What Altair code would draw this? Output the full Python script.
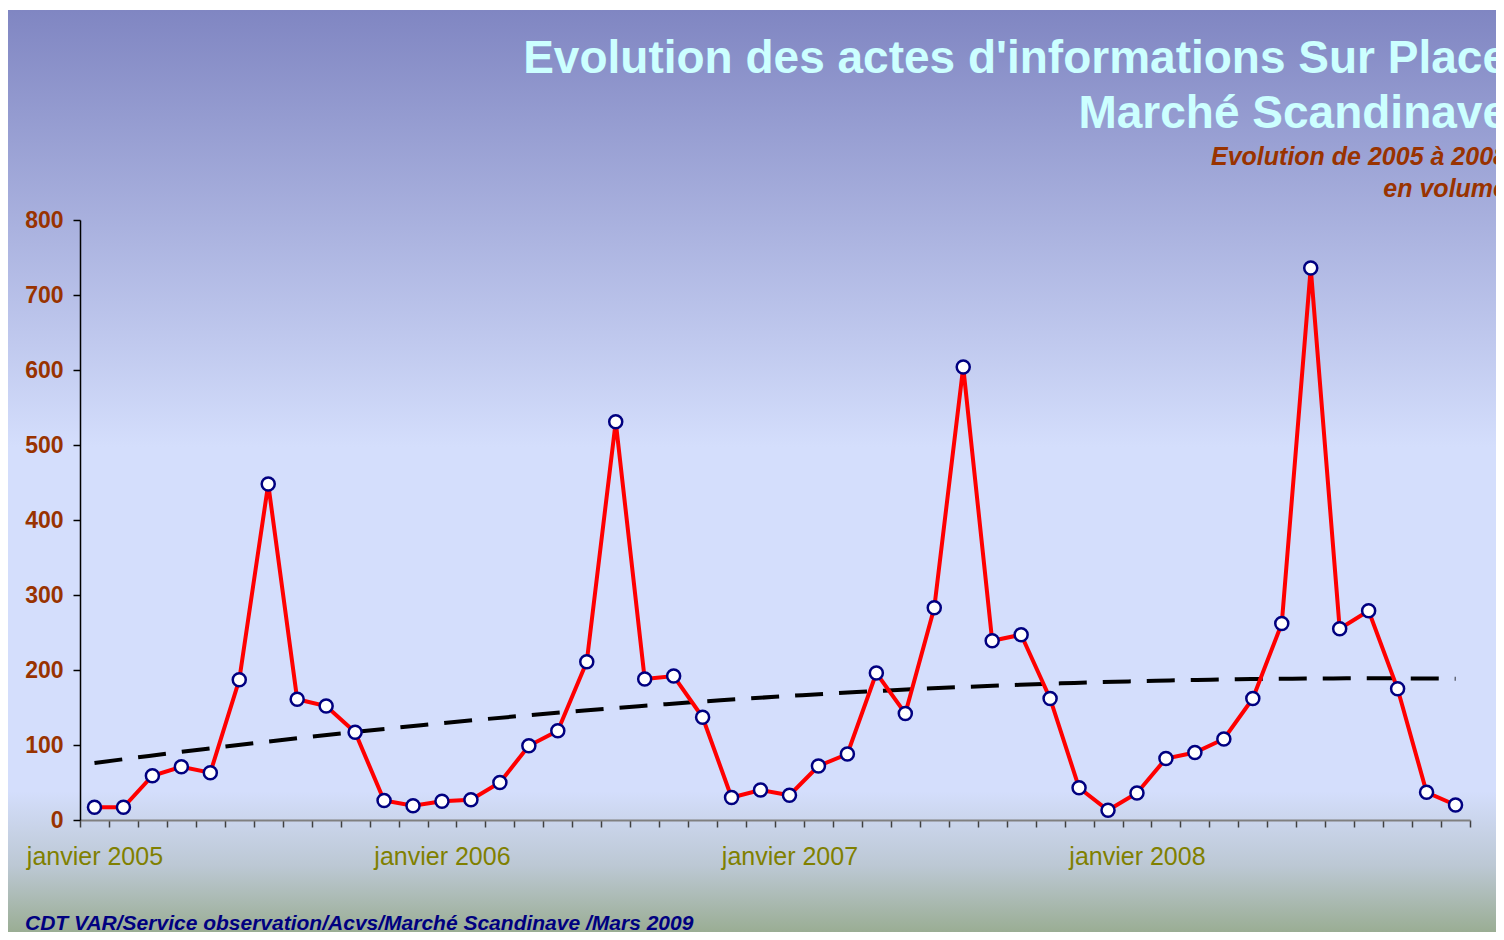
import altair as alt
import pandas as pd

# ---- data ----
years = ["2005", "2006", "2007", "2008"]
months = ["janvier", "février", "mars", "avril", "mai", "juin", "juillet",
          "août", "septembre", "octobre", "novembre", "décembre"]
values_2005 = [17, 17, 59, 71, 63, 187, 448, 161, 152, 117, 26, 19]
values_2006 = [25, 27, 50, 99, 119, 211, 531, 188, 192, 137, 30, 40]
values_2007 = [33, 72, 88, 196, 142, 283, 604, 239, 247, 162, 43, 13]
values_2008 = [36, 82, 90, 108, 162, 262, 736, 255, 279, 175, 37, 20]
y_ticks = [0, 100, 200, 300, 400, 500, 600, 700, 800]
year_labels = ["janvier 2005", "janvier 2006", "janvier 2007", "janvier 2008"]
title_lines = ["Evolution des actes d'informations Sur Place", "Marché Scandinave"]
subtitle_lines = ["Evolution de 2005 à 2008", "en volume"]
footer_text = "CDT VAR/Service observation/Acvs/Marché Scandinave /Mars 2009"

rows = []
for yi, (yr, vals) in enumerate(zip(years, [values_2005, values_2006, values_2007, values_2008])):
    for mi, (m, v) in enumerate(zip(months, vals)):
        rows.append({"idx": yi * 12 + mi + 1, "mois": f"{m} {yr}", "value": v})
df = pd.DataFrame(rows)
n = len(df)

FONT = "Liberation Sans"
W, H = 1390, 600
band = W / n

label_expr = " : ".join(
    f"datum.value == {yi * 12 + 0.5} ? '{lab}'" for yi, lab in enumerate(year_labels)
) + " : ''"

x_enc = alt.X(
    "idx:Q",
    scale=alt.Scale(domain=[0.5, n + 0.5], nice=False, zero=False),
    axis=alt.Axis(
        values=[i + 0.5 for i in range(n + 1)],
        labelExpr=label_expr,
        labelOffset=band / 2,
        labelFlush=False,
        labelOverlap=False,
        labelAlign="center",
        grid=False,
        title=None,
        tickSize=7,
        tickWidth=1.5,
        tickColor="#404040",
        domainColor="#808080",
        domainWidth=2,
        labelFont=FONT,
        labelFontSize=25,
        labelColor="#808000",
        labelPadding=17,
        zindex=1,
    ),
)
y_enc = alt.Y(
    "value:Q",
    scale=alt.Scale(domain=[0, 800], nice=False),
    axis=alt.Axis(
        values=y_ticks,
        grid=False,
        title=None,
        tickSize=7,
        tickWidth=1.5,
        tickColor="black",
        domainColor="black",
        domainWidth=1.5,
        labelFont=FONT,
        labelFontSize=23,
        labelFontWeight="bold",
        labelColor="#993300",
        labelPadding=10,
        zindex=1,
    ),
)

bg = alt.Chart(pd.DataFrame({"k": [0]})).mark_rect(
    fill=alt.Gradient(
        gradient="linear",
        x1=0, x2=0, y1=0, y2=1,
        stops=[
            alt.GradientStop(offset=0, color="#8086C2"),
            alt.GradientStop(offset=0.47, color="#D4DEFC"),
            alt.GradientStop(offset=0.84, color="#D4DEFC"),
            alt.GradientStop(offset=0.92, color="#BCC8D4"),
            alt.GradientStop(offset=1, color="#96AA8C"),
        ],
    ),
    strokeWidth=0,
).encode(
    x=alt.value(-72), x2=alt.value(W + 40),
    y=alt.value(-210), y2=alt.value(H + 120),
)

base = alt.Chart(df)

trend = base.transform_regression(
    "idx", "value", method="poly", order=2, extent=[1, n]
).mark_line(color="black", strokeWidth=4, strokeDash=[28, 16]).encode(x=x_enc, y=y_enc)

line = base.mark_line(color="#FF0000", strokeWidth=4).encode(x=x_enc, y=y_enc)

points = base.mark_point(
    shape="circle", filled=True, fill="white", stroke="#000080",
    strokeWidth=2.5, size=170, opacity=1,
).encode(x=x_enc, y=y_enc)


def text_layer(txt, x, y, size, color, align, weight="bold", style="normal"):
    return alt.Chart(pd.DataFrame({"t": [txt]})).mark_text(
        font=FONT, fontSize=size, fontWeight=weight, fontStyle=style,
        color=color, align=align, baseline="alphabetic",
    ).encode(x=alt.value(x), y=alt.value(y), text="t:N")


t1 = text_layer(title_lines[0], 1428, -147, 46, "#CCFFFF", "right")
t2 = text_layer(title_lines[1], 1428, -92, 46, "#CCFFFF", "right")
s1 = text_layer(subtitle_lines[0], 1427, -55, 25, "#993300", "right", style="italic")
s2 = text_layer(subtitle_lines[1], 1427, -23, 25, "#993300", "right", style="italic")
foot = text_layer(footer_text, -55, 710, 21, "#000080", "left", style="italic")

chart = alt.layer(bg, trend, line, points, t1, t2, s1, s2, foot).properties(
    width=W,
    height=H,
    autosize=alt.AutoSizeParams(type="none"),
    padding={"left": 72, "top": 212, "right": 26, "bottom": 112},
).configure_view(stroke=None)

chart.save("out.html", embed_options={"renderer": "svg", "actions": False})
